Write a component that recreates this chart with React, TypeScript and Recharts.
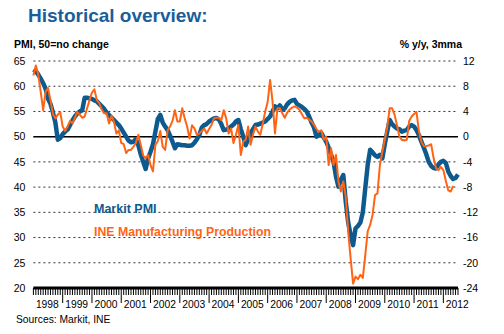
import { LineChart, Line, XAxis, YAxis, CartesianGrid, ReferenceLine } from "recharts";

const BLUE = "#0e5a8e";
const ORANGE = "#ff6414";
const FONT = "'Liberation Sans', Arial, sans-serif";

const years = ["1998", "1999", "2000", "2001", "2002", "2003", "2004", "2005", "2006", "2007", "2008", "2009", "2010", "2011", "2012"];

// Markit PMI, monthly from Jan 1998 (left axis)
const pmi = [
  63.3, 63.0, 62.3, 61.5, 60.6, 59.5, 57.5, 56.5, 54.8, 52.8, 49.4, 49.7,
  50.5, 51.0, 51.4, 52.3, 53.2, 54.0, 54.6, 55.0, 55.2, 57.7, 57.7, 57.6,
  57.5, 57.2, 57.0, 56.5, 56.0, 55.5, 54.8, 54.3, 53.8, 53.3, 52.8, 52.3,
  51.6, 50.8, 50.0, 49.2, 48.9, 49.0, 49.5, 48.3, 46.5, 45.0, 43.6, 45.7,
  47.0, 48.5, 51.0, 53.5, 54.3, 52.8, 52.0, 51.3, 50.2, 49.0, 47.7, 48.5,
  48.4, 48.3, 48.3, 48.2, 48.2, 48.3, 48.8, 49.5, 50.3, 51.8, 52.3, 52.5,
  53.0, 53.3, 53.6, 53.7, 53.4, 52.5, 51.3, 51.4, 51.6, 52.0, 52.4, 53.0,
  53.3, 51.5, 50.0, 48.3, 49.5, 50.7, 51.5, 52.3, 52.4, 52.6, 52.8, 53.0,
  53.5, 54.0, 55.0, 56.0, 55.6, 56.2, 55.3, 55.6, 56.4, 56.9, 57.2, 57.3,
  56.5, 56.2, 55.9, 55.5, 55.0, 54.0, 52.8, 51.8, 50.0, 50.4, 50.7, 49.8,
  49.0, 47.8, 46.4, 45.0, 42.1, 40.1, 41.5, 42.4, 37.1, 33.0, 30.5, 28.5,
  31.8, 32.3, 33.0, 35.0, 39.8, 44.4, 47.4, 46.9, 46.3, 46.0, 46.4, 45.7,
  48.5, 51.0, 53.3, 52.5, 52.0, 51.6, 51.5, 51.0, 51.2, 51.3, 52.0, 52.3,
  52.0, 51.3, 50.3, 49.0, 47.8, 46.5, 45.0, 44.2, 43.8, 43.7, 44.5, 45.0,
  45.2, 44.8, 43.1, 42.2, 41.6, 41.8, 42.5,
];

// INE manufacturing production, % y/y 3mma (right axis)
const ine = [
  9.7, 11.3, 9.8, 7.1, 4.2, 7.1, 7.7, 5.8, 3.6, 2.9, 3.5, 3.9,
  1.6, 0.9, 1.6, 2.5, 2.1, 3.0, 3.9, 3.5, 3.0, 3.2, 4.5, 5.8,
  7.0, 7.5, 5.8, 5.3, 4.3, 3.7, 3.7, 2.1, 3.3, 2.4, 0.5, 1.0,
  -1.0, -1.2, -2.6, -2.1, -2.1, -1.6, -1.0, 0.3, -1.3, -3.0, -3.4, -2.9,
  -4.5, -5.5, -1.3, -0.7, 0.9, -1.6, -2.1, 1.0, 1.6, 2.5, 4.2, 2.4,
  2.4, 4.5, 2.9, 1.6, -0.3, 1.8, 1.3, 0.3, 0.5, 0.9, 1.3, 0.5,
  1.2, 1.85, 2.9, 3.0, 3.0, 2.6, 4.2, 2.9, 0.5, 1.3, -1.0, 0.3,
  1.85, -2.9, -0.8, -0.5, 1.6, -1.3, 0.3, 1.6, 0.8, 0.3, 2.1, 4.0,
  5.5, 9.0, 5.6, 0.5, 4.5, 4.5, 3.7, 3.0, 3.8, 4.3, 4.6, 4.8,
  4.6, 4.3, 3.6, 2.9, 3.0, 2.7, 2.4, 1.85, 1.2, 0.8, 1.0, -0.5,
  0.0, -4.5, -1.85, -4.5, -2.9, -7.1, -8.7, -7.1, -9.5, -15.1, -19.3, -23.3,
  -22.2, -22.6, -21.9, -22.4, -18.8, -15.0, -14.0, -12.4, -9.25, -9.0, -4.5, -2.4,
  -0.5, 1.5, 4.5, 4.5, 3.5, 1.8, 0.0, -0.5, -0.6, -0.5, 2.5, 3.2,
  3.6, 3.9, 0.8, -0.8, -1.5, -1.5, -1.4, -1.2, -3.4, -5.0, -5.3, -4.8,
  -5.3, -7.0, -8.5, -8.7, -7.8,
];

const leftTicks = [20, 25, 30, 35, 40, 45, 50, 55, 60, 65];
const rightTicks = [-24, -20, -16, -12, -8, -4, 0, 4, 8, 12];

const data = pmi.map((v, i) => ({ m: i, pmi: v, ine: i < ine.length ? ine[i] : null }));
const monthTicks = pmi.map((_, i) => i);

function MonthTick(props: any) {
  const { x, y, payload } = props;
  const m = payload.value as number;
  const jan = m % 12 === 0;
  const len = jan && m > 0 ? 15 : 7;
  return (
    <g>
      <line x1={x} x2={x} y1={y} y2={y + len} stroke="#000" strokeWidth={1} />
      {jan && (
        <text x={x + 2.5} y={y + 19.5} fontSize={10.3} fontFamily={FONT} fill="#000">
          {years[m / 12]}
        </text>
      )}
    </g>
  );
}

export default function App() {
  return (
    <div style={{ position: "absolute", left: 0, top: 0, width: 504, height: 334, background: "#fff" }}>
      <LineChart width={504} height={334} data={data} margin={{ top: 61, right: 0, bottom: 0, left: 0 }}>
        <CartesianGrid vertical={false} stroke="#333" strokeDasharray="2 3" yAxisId="l" />
        <XAxis
          dataKey="m"
          type="number"
          domain={[0, 174]}
          ticks={monthTicks}
          interval={0}
          height={46}
          tickLine={false}
          tickSize={0}
          tickMargin={0}
          axisLine={{ stroke: "#000", strokeWidth: 3 }}
          tick={<MonthTick />}
        />
        <YAxis
          yAxisId="l"
          domain={[20, 65]}
          ticks={leftTicks}
          interval={0}
          width={33.4}
          axisLine={false}
          tickLine={false}
          tick={{ fontSize: 10.5, fill: "#000", fontFamily: FONT }}
        />
        <YAxis
          yAxisId="r"
          orientation="right"
          domain={[-24, 12]}
          ticks={rightTicks}
          interval={0}
          width={46}
          axisLine={false}
          tickLine={false}
          tickSize={3}
          tickMargin={2}
          tick={{ fontSize: 10.5, fill: "#000", fontFamily: FONT }}
        />
        <ReferenceLine yAxisId="l" y={50} stroke="#000" strokeWidth={1.5} />
        <Line
          yAxisId="l"
          dataKey="pmi"
          type="linear"
          stroke={BLUE}
          strokeWidth={4.5}
          strokeLinejoin="round"
          dot={false}
          isAnimationActive={false}
        />
        <Line
          yAxisId="r"
          dataKey="ine"
          type="linear"
          stroke={ORANGE}
          strokeWidth={2}
          strokeLinejoin="round"
          dot={false}
          isAnimationActive={false}
        />
      </LineChart>
      <svg width={504} height={334} style={{ position: "absolute", left: 0, top: 0, pointerEvents: "none" }}>
        <text x={28} y={22} fontSize={19} fontWeight="bold" fill="#1a5e99" fontFamily={FONT}>
          Historical overview:
        </text>
        <text x={14} y={48} fontSize={10.5} fontWeight="bold" fill="#000" fontFamily={FONT}>
          PMI, 50=no change
        </text>
        <text x={462} y={48} fontSize={10.5} fontWeight="bold" fill="#000" fontFamily={FONT} textAnchor="end">
          % y/y, 3mma
        </text>
        <text x={94} y={213} fontSize={12.5} fontWeight="bold" fill={BLUE} fontFamily={FONT}>
          Markit PMI
        </text>
        <text x={94} y={236} fontSize={12.3} fontWeight="bold" fill={ORANGE} fontFamily={FONT}>
          INE Manufacturing Production
        </text>
        <text x={16} y={323} fontSize={10.3} fill="#000" fontFamily={FONT}>
          Sources: Markit, INE
        </text>
      </svg>
    </div>
  );
}
